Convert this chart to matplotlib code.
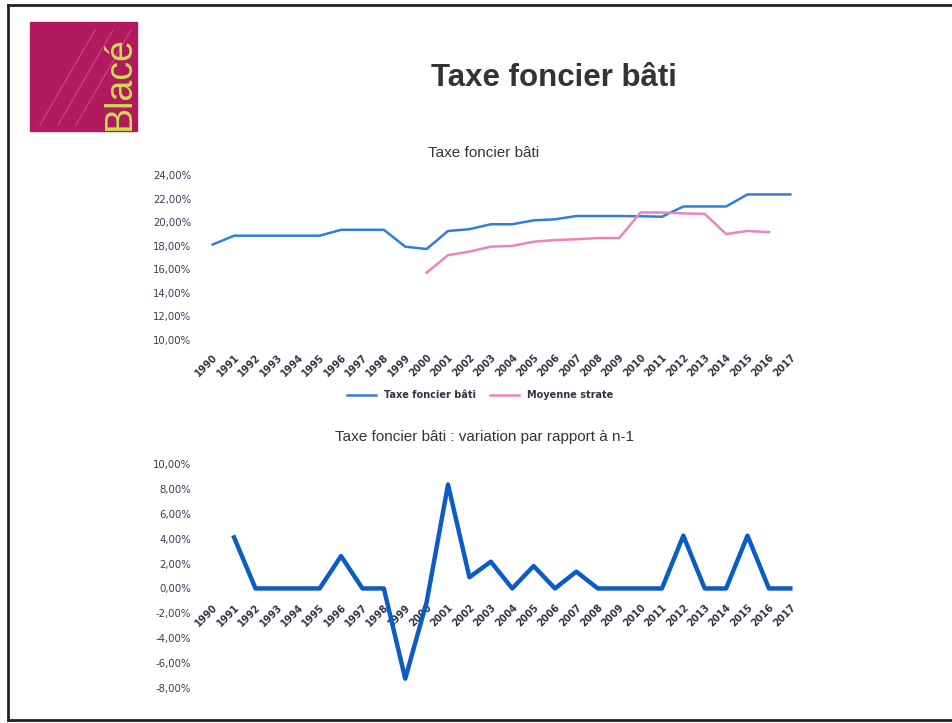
import numpy as np
import matplotlib.pyplot as plt
from matplotlib.lines import Line2D
from matplotlib.patches import Rectangle
from matplotlib.ticker import FuncFormatter, MultipleLocator

# ========== Données ==========
annees = [str(a) for a in range(1990, 2018)]

taxe_fb = [18.10, 18.85, 18.85, 18.85, 18.85, 18.85, 19.35, 19.35, 19.35, 17.92,
           17.72, 19.25, 19.40, 19.82, 19.82, 20.15, 20.24, 20.52, 20.52, 20.52,
           20.50, 20.46, 21.33, 21.33, 21.33, 22.35, 22.35, 22.35]

moyenne_strate = [np.nan] * 10 + [15.71, 17.20, 17.50, 17.92, 17.98, 18.34, 18.48,
                                  18.55, 18.65, 18.65, 20.82, 20.82, 20.74, 20.70,
                                  18.99, 19.25, 19.15, np.nan]

variation = [np.nan, 4.10, 0.0, 0.0, 0.0, 0.0, 2.60, 0.0, 0.0, -7.25,
             -1.10, 8.35, 0.90, 2.15, 0.0, 1.80, 0.0, 1.35, 0.0, 0.0,
             0.0, 0.0, 4.24, 0.0, 0.0, 4.24, 0.0, 0.0]

# ========== Style ==========
W, H = 953, 723
col_lab = '#3a3a55'
pct = FuncFormatter(lambda v, p: f"{v:.2f}".replace('.', ',') + '%')
x = np.arange(len(annees))

fig = plt.figure(figsize=(W / 100, H / 100), dpi=100)
fig.patch.set_facecolor('white')


def box(l, t, r, b):
    return [l / W, 1 - b / H, (r - l) / W, (b - t) / H]


def style_axe(ax):
    for s in ax.spines.values():
        s.set_visible(False)
    ax.yaxis.set_major_formatter(pct)
    ax.yaxis.set_major_locator(MultipleLocator(2))
    ax.tick_params(axis='both', length=0, colors=col_lab)
    ax.tick_params(axis='y', labelsize=7.3, pad=8)
    ax.set_xticks(x)
    ax.set_xticklabels(annees, rotation=45, ha='right', va='top',
                       rotation_mode='anchor', fontsize=7,
                       fontweight='bold', color='#333344')
    ax.set_xlim(-0.5, len(annees) - 0.5)


# Graphe du haut
ax1 = fig.add_axes(box(202, 175, 801, 340))
ax1.plot(x, taxe_fb, color='#2e7fdb', lw=1.8, label='Taxe foncier bâti')
ax1.plot(x, moyenne_strate, color='#ea84bd', lw=1.8, label='Moyenne strate')
style_axe(ax1)
ax1.set_ylim(10, 24)
ax1.tick_params(axis='x', pad=9)

fig.legend(loc='center', bbox_to_anchor=(480 / W, 1 - 395 / H), ncol=2,
           frameon=False, handlelength=3, columnspacing=1.5,
           labelcolor='#333344', prop={'weight': 'bold', 'size': 7})

# Graphe du bas (axe des catégories à 0, la courbe passe sur les étiquettes)
ax2 = fig.add_axes(box(202, 464, 801, 688))
ax2.spines['bottom'].set_position(('data', 0))
ax2.plot(x, variation, color='#0b5cc4', lw=3.2, zorder=3)
style_axe(ax2)
ax2.set_ylim(-8, 10)
ax2.tick_params(axis='x', pad=10)

# Titres
fig.text(554 / W, 1 - 78 / H, 'Taxe foncier bâti', ha='center', va='center',
         fontsize=22.5, fontweight='bold', color='#333338',
         family='Liberation Sans')
fig.text(484 / W, 1 - 153 / H, 'Taxe foncier bâti', ha='center', va='center',
         fontsize=11, color='#333338', family='Liberation Sans')
fig.text(485 / W, 1 - 437 / H, 'Taxe foncier bâti : variation par rapport à n-1',
         ha='center', va='center', fontsize=11, color='#333338',
         family='Liberation Sans')

# Logo
axl = fig.add_axes([0, 0, 1, 1], zorder=-1)
axl.set_xlim(0, W)
axl.set_ylim(H, 0)
axl.axis('off')
axl.add_patch(Rectangle((30, 22), 107, 109, color='#b3195f'))
for d in (0, 18, 36):
    axl.plot([40 + d, 95 + d], [125, 30], color='#d0508f', lw=1, alpha=0.7)
axl.text(120, 130, 'Blacé', rotation=90, ha='center', va='bottom',
         fontsize=27, color='#c9e24c', family='Liberation Sans')

# Cadre
fig.add_artist(Line2D([8 / W, 8 / W], [1 - 5 / H, 1 - 720 / H], color='#222222', lw=2))
fig.add_artist(Line2D([8 / W, 1], [1 - 5 / H, 1 - 5 / H], color='#222222', lw=2))
fig.add_artist(Line2D([8 / W, 1], [1 - 720 / H, 1 - 720 / H], color='#222222', lw=2))

plt.savefig('out.png', dpi=100)
